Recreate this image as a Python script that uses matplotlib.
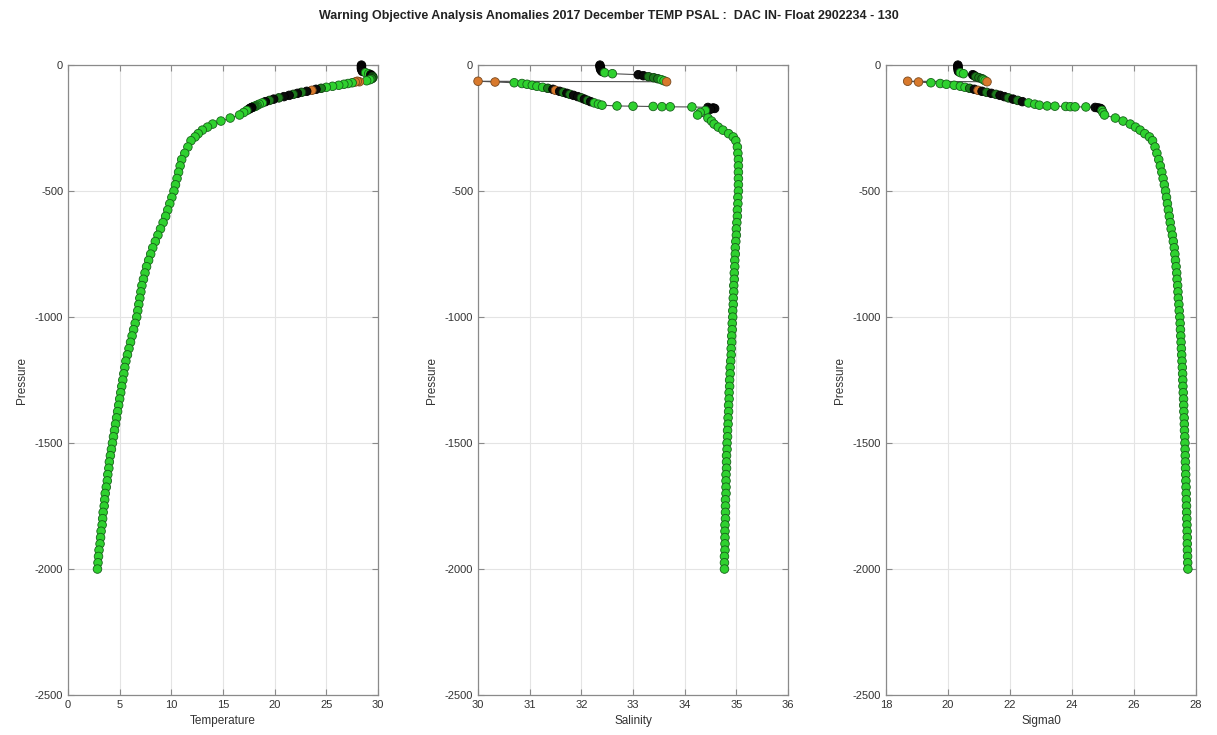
import matplotlib
matplotlib.use("Agg")
import matplotlib.pyplot as plt

plt.rcParams["font.family"] = ["Liberation Sans", "DejaVu Sans"]
plt.rcParams["axes.unicode_minus"] = False

# ====================================================================
# DATA -- one profile (pressure in dbar, positive)
# ====================================================================

# near-surface segment, then the thermocline / halocline, then the deep part
PRES = [
    0, 5, 10, 15, 20, 25, 30, 34, 38, 42, 46, 50, 54, 58, 62, 66,
    64, 67, 70, 73, 76, 80, 84, 88, 92, 96, 100, 104, 108, 112, 116, 120,
    125, 130, 135, 140, 145, 150, 155, 159, 162, 163, 164, 165, 165.5, 166,
    168, 170, 172, 175, 180, 188, 198, 210, 222, 234, 246, 258, 272, 285,
    300, 325, 350, 375, 400, 425, 450, 475, 500, 525, 550, 575, 600, 625,
    650, 675, 700, 725, 750, 775, 800, 825, 850, 875, 900, 925, 950, 975,
    1000, 1025, 1050, 1075, 1100, 1125, 1150, 1175, 1200, 1225, 1250, 1275,
    1300, 1325, 1350, 1375, 1400, 1425, 1450, 1475, 1500, 1525, 1550, 1575,
    1600, 1625, 1650, 1675, 1700, 1725, 1750, 1775, 1800, 1825, 1850, 1875,
    1900, 1925, 1950, 1975, 2000,
]

TEMP = [
    28.4, 28.4, 28.4, 28.4, 28.45, 28.5, 28.8, 29.1, 29.3, 29.4, 29.5, 29.5,
    29.4, 29.2, 28.9, 28.2,
    28.0, 27.8, 27.5, 27.1, 26.7, 26.2, 25.6, 25.0, 24.5, 24.0, 23.6, 23.1,
    22.6, 22.2, 21.8, 21.4, 20.9, 20.4, 19.9, 19.5, 19.1, 18.8, 18.5, 18.3,
    18.2, 18.1, 18.05, 18.0, 17.95, 17.9, 17.8, 17.7, 17.6, 17.5, 17.3, 17.0,
    16.6, 15.7, 14.8, 14.0, 13.5, 13.0, 12.6, 12.3,
    11.9, 11.6, 11.3, 11.0, 10.85, 10.7, 10.55, 10.4, 10.25, 10.05, 9.85,
    9.65, 9.45, 9.2, 8.95, 8.7, 8.45, 8.2, 8.0, 7.8, 7.6, 7.45, 7.3, 7.15,
    7.05, 6.95, 6.85, 6.75, 6.65, 6.5, 6.35, 6.2, 6.05, 5.9, 5.75, 5.6, 5.5,
    5.4, 5.3, 5.2, 5.1, 5.0, 4.9, 4.8, 4.7, 4.6, 4.5, 4.4, 4.3, 4.2, 4.1,
    4.0, 3.95, 3.85, 3.8, 3.7, 3.6, 3.55, 3.5, 3.4, 3.35, 3.3, 3.2, 3.15,
    3.1, 3.0, 2.95, 2.9, 2.85,
]

PSAL = [
    32.36, 32.36, 32.37, 32.37, 32.38, 32.40, 32.45, 32.60, 33.10, 33.20,
    33.30, 33.40, 33.48, 33.55, 33.60, 33.65,
    30.00, 30.33, 30.70, 30.85, 30.95, 31.05, 31.14, 31.25, 31.35, 31.45,
    31.50, 31.58, 31.65, 31.72, 31.78, 31.85, 31.93, 32.00, 32.06, 32.12,
    32.18, 32.25, 32.33, 32.40, 32.69, 33.00, 33.39, 33.56, 33.72, 34.14,
    34.45, 34.55, 34.58, 34.50, 34.40, 34.30, 34.25, 34.45, 34.52, 34.57,
    34.65, 34.74, 34.85, 34.94,
    34.99, 35.02, 35.03, 35.04, 35.04, 35.04, 35.04, 35.04, 35.04, 35.03,
    35.03, 35.02, 35.02, 35.01, 35.00, 35.00, 34.99, 34.98, 34.98, 34.97,
    34.97, 34.96, 34.96, 34.95, 34.95, 34.94, 34.94, 34.93, 34.93, 34.92,
    34.92, 34.91, 34.91, 34.90, 34.90, 34.89, 34.88, 34.88, 34.87, 34.87,
    34.86, 34.86, 34.85, 34.85, 34.84, 34.84, 34.83, 34.83, 34.82, 34.82,
    34.81, 34.81, 34.81, 34.80, 34.80, 34.80, 34.80, 34.79, 34.79, 34.79,
    34.79, 34.78, 34.78, 34.78, 34.78, 34.78, 34.77, 34.77, 34.77,
]

SIG0 = [
    20.32, 20.32, 20.32, 20.33, 20.33, 20.34, 20.40, 20.50, 20.80, 20.85,
    20.90, 21.00, 21.10, 21.15, 21.20, 21.26,
    18.70, 19.05, 19.45, 19.75, 19.95, 20.20, 20.40, 20.55, 20.70, 20.85,
    20.97, 21.10, 21.25, 21.40, 21.55, 21.68, 21.82, 21.95, 22.10, 22.25,
    22.40, 22.60, 22.80, 22.95, 23.20, 23.45, 23.80, 23.95, 24.10, 24.45,
    24.75, 24.85, 24.92, 24.95, 24.97, 25.00, 25.05, 25.40, 25.65, 25.88,
    26.05, 26.20, 26.35, 26.50,
    26.60, 26.68, 26.74, 26.80, 26.85, 26.90, 26.94, 26.98, 27.02, 27.05,
    27.08, 27.11, 27.14, 27.17, 27.20, 27.24, 27.27, 27.30, 27.32, 27.34,
    27.36, 27.38, 27.39, 27.41, 27.42, 27.43, 27.45, 27.46, 27.48, 27.49,
    27.50, 27.51, 27.52, 27.53, 27.54, 27.55, 27.56, 27.57, 27.575, 27.58,
    27.59, 27.60, 27.605, 27.61, 27.62, 27.625, 27.63, 27.64, 27.645, 27.65,
    27.655, 27.66, 27.665, 27.67, 27.675, 27.68, 27.685, 27.69, 27.695,
    27.70, 27.705, 27.71, 27.715, 27.72, 27.72, 27.725, 27.73, 27.735, 27.74,
]

# marker class per point: g = green, d = dark green, k = black, o = orange
MCLASS = list(
    "kkkkkkggkkdddggo"                       # surface segment (16)
    "oo" "gggggg" "dk" "o" "kd" "k" "dk" "k" "dk" "d" "k"
    "ggggggggg" "kkkk" "gggggggggg"          # thermocline (44)
    + "g" * 69                               # deep part
)

TITLE = ("Warning Objective Analysis Anomalies 2017 December TEMP PSAL :  "
         "DAC IN- Float 2902234 - 130")

FACE = {"g": "#2fd12f", "d": "#1d7a1d", "k": "#0a0a0a", "o": "#d8792c"}
EDGE = {"g": "#16631a", "d": "#0b3a0b", "k": "#000000", "o": "#7a4a20"}

panels = [
    (TEMP, "Temperature", (0, 30), list(range(0, 31, 5))),
    (PSAL, "Salinity", (30, 36), list(range(30, 37))),
    (SIG0, "Sigma0", (18, 28), list(range(18, 29, 2))),
]

fig = plt.figure(figsize=(12.17, 7.35), dpi=100)
lefts = [0.0559, 0.3928, 0.7280]
ypres = [-p for p in PRES]
fcols = [FACE[c] for c in MCLASS]
ecols = [EDGE[c] for c in MCLASS]

for left, (vals, xlabel, xlim, xticks) in zip(lefts, panels):
    ax = fig.add_axes([left, 0.0544, 0.2547, 0.857])
    ax.plot(vals, ypres, color="#505050", lw=0.8, zorder=2)
    ax.scatter(vals, ypres, s=38, c=fcols, edgecolors=ecols,
               linewidths=0.6, zorder=3, clip_on=False)
    ax.set_xlim(*xlim)
    ax.set_ylim(-2500, 0)
    ax.set_xticks(xticks)
    ax.set_yticks([0, -500, -1000, -1500, -2000, -2500])
    ax.grid(True, color="#e4e4e4", lw=0.8)
    ax.set_axisbelow(True)
    for sp in ax.spines.values():
        sp.set_color("#8a8a8a")
        sp.set_linewidth(0.9)
    ax.tick_params(direction="in", top=True, right=True, length=4,
                   color="#8a8a8a", labelsize=8, labelcolor="#333333")
    ax.set_xlabel(xlabel, fontsize=8.5, color="#333333", labelpad=4)
    ax.set_ylabel("Pressure", fontsize=8.5, color="#333333", labelpad=5)

fig.text(0.5, 0.978, TITLE, ha="center", va="center", fontsize=9,
         fontweight="bold", color="#222222")

fig.savefig("out.png", dpi=100)
